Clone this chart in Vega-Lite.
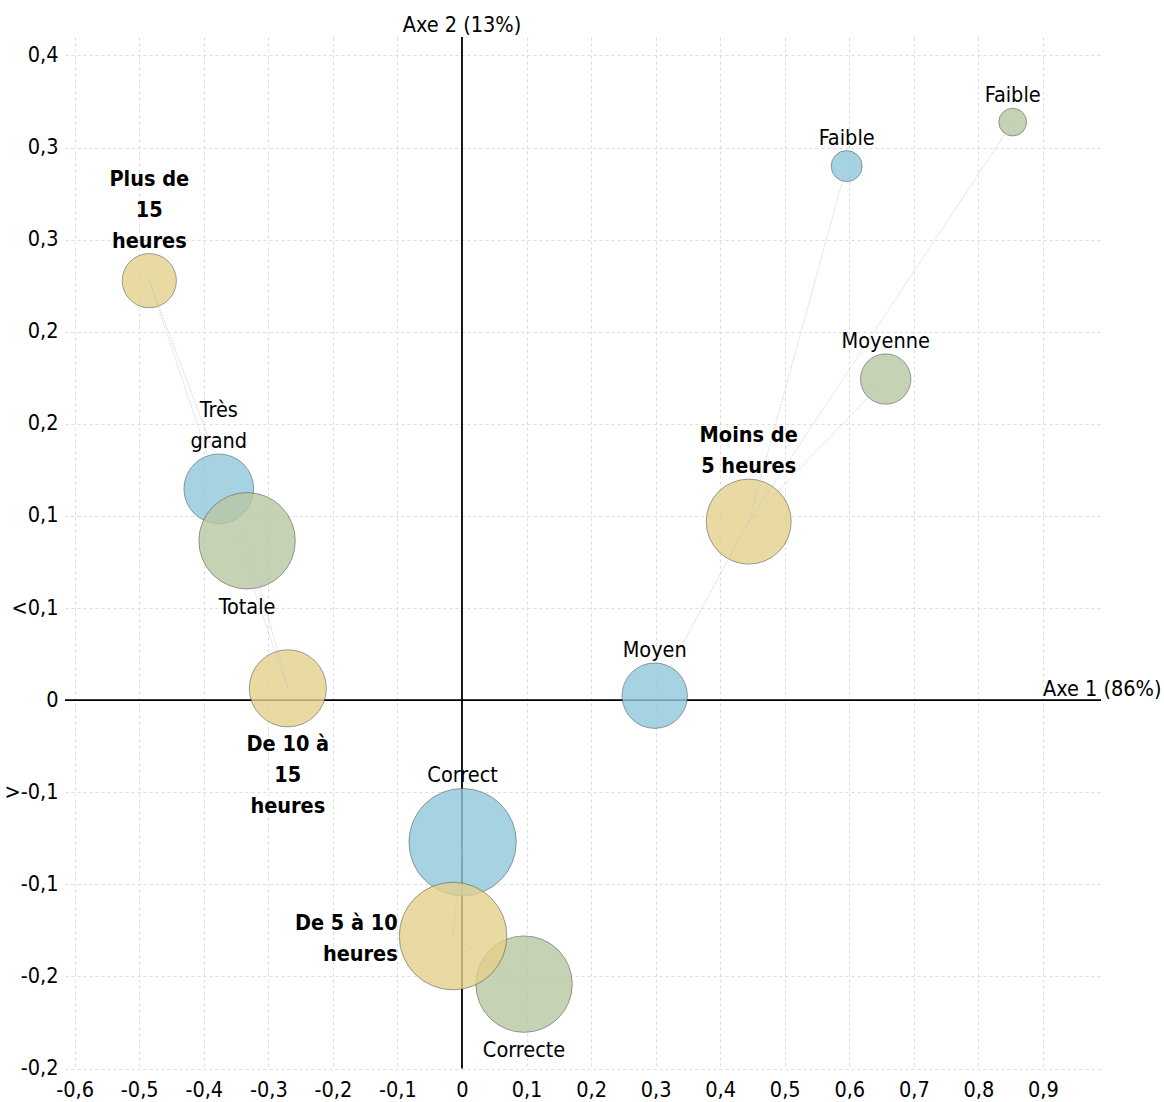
{
  "$schema": "https://vega.github.io/schema/vega-lite/v6.json",
  "width": 1036,
  "height": 1031.5,
  "autosize": {"type": "none"},
  "padding": {"left": 65, "top": 37, "right": 63, "bottom": 33.5},
  "background": "white",
  "config": {
    "view": {"stroke": null},
    "font": "DejaVu Sans Condensed, DejaVu Sans",
    "text": {"lineBreak": "\n"},
    "axis": {
      "domain": false, "ticks": false, "grid": true,
      "gridColor": "#d4d4d4", "gridDash": [3, 3], "gridWidth": 0.8,
      "labelFontSize": 21.5, "labelColor": "black",
      "labelFlush": false, "labelOverlap": false
    }
  },
  "datasets": {
    "points": [
      {"id": "N-Faible", "variable": "Niveau", "label": "Faible", "x": 0.596, "y": 0.2899, "poids": 11.4, "pos": "haut"},
      {"id": "N-Moyen", "variable": "Niveau", "label": "Moyen", "x": 0.2986, "y": 0.0024, "poids": 24.0, "pos": "haut"},
      {"id": "N-Correct", "variable": "Niveau", "label": "Correct", "x": 0.001, "y": -0.0771, "poids": 39.4, "pos": "haut"},
      {"id": "N-Tres grand", "variable": "Niveau", "label": "Très\ngrand", "x": -0.3767, "y": 0.1147, "poids": 25.6, "pos": "haut"},
      {"id": "S-Faible", "variable": "Satisfaction", "label": "Faible", "x": 0.8532, "y": 0.3138, "poids": 10.2, "pos": "haut"},
      {"id": "S-Moyenne", "variable": "Satisfaction", "label": "Moyenne", "x": 0.6564, "y": 0.1743, "poids": 18.5, "pos": "haut"},
      {"id": "S-Correcte", "variable": "Satisfaction", "label": "Correcte", "x": 0.0962, "y": -0.1542, "poids": 35.4, "pos": "bas"},
      {"id": "S-Totale", "variable": "Satisfaction", "label": "Totale", "x": -0.3329, "y": 0.0865, "poids": 35.4, "pos": "bas"},
      {"id": "D-15+", "variable": "Durée", "label": "Plus de\n15\nheures", "x": -0.4844, "y": 0.2277, "poids": 19.9, "pos": "haut"},
      {"id": "D-5-", "variable": "Durée", "label": "Moins de\n5 heures", "x": 0.4442, "y": 0.0969, "poids": 31.2, "pos": "haut"},
      {"id": "D-10-15", "variable": "Durée", "label": "De 10 à\n15\nheures", "x": -0.2698, "y": 0.0064, "poids": 28.3, "pos": "bas"},
      {"id": "D-5-10", "variable": "Durée", "label": "De 5 à 10\nheures", "x": -0.0138, "y": -0.1281, "poids": 39.5, "pos": "gauche"}
    ],
    "liens": [
      {"de": "D-15+", "vers": "N-Tres grand"},
      {"de": "D-15+", "vers": "S-Totale"},
      {"de": "D-10-15", "vers": "N-Tres grand"},
      {"de": "D-10-15", "vers": "S-Totale"},
      {"de": "D-5-", "vers": "N-Faible"},
      {"de": "D-5-", "vers": "S-Faible"},
      {"de": "D-5-", "vers": "S-Moyenne"},
      {"de": "D-5-", "vers": "N-Moyen"},
      {"de": "D-5-10", "vers": "N-Correct"},
      {"de": "D-5-10", "vers": "S-Correcte"}
    ],
    "unique": [{}]
  },
  "encoding": {
    "x": {
      "type": "quantitative",
      "scale": {"domain": [-0.615, 0.99], "nice": false, "zero": false},
      "axis": {
        "title": null,
        "values": [-0.6, -0.5, -0.4, -0.3, -0.2, -0.1, 0, 0.1, 0.2, 0.3, 0.4, 0.5, 0.6, 0.7, 0.8, 0.9],
        "labelExpr": "abs(datum.value) < 0.001 ? '0' : (datum.value < 0 ? '-' : '') + replace(format(abs(datum.value), '.1f'), '.', ',')",
        "labelPadding": 11
      }
    },
    "y": {
      "type": "quantitative",
      "scale": {"domain": [-0.2, 0.36], "nice": false, "zero": false},
      "axis": {
        "title": null,
        "values": [-0.2, -0.15, -0.1, -0.05, 0, 0.05, 0.1, 0.15, 0.2, 0.25, 0.3, 0.35],
        "labelExpr": "['-0,2','-0,2','-0,1','>-0,1','0','<0,1','0,1','0,2','0,2','0,3','0,3','0,4'][round(datum.value*20)+4]",
        "labelPadding": 7
      }
    }
  },
  "layer": [
    {
      "data": {"name": "unique"},
      "mark": {"type": "rule", "color": "black", "strokeWidth": 1.8},
      "encoding": {"y": {"datum": 0, "type": "quantitative"}}
    },
    {
      "data": {"name": "unique"},
      "mark": {"type": "rule", "color": "black", "strokeWidth": 1.8},
      "encoding": {"x": {"datum": 0, "type": "quantitative"}}
    },
    {
      "data": {"name": "points"},
      "mark": {"type": "point", "shape": "circle", "filled": true, "opacity": 1, "fillOpacity": 0.8, "stroke": "#444444", "strokeWidth": 0.7, "strokeOpacity": 0.7},
      "encoding": {
        "x": {"field": "x", "type": "quantitative"},
        "y": {"field": "y", "type": "quantitative"},
        "size": {"field": "poids", "type": "quantitative", "scale": {"type": "pow", "exponent": 2, "domain": [0, 100], "range": [0, 74256]}, "legend": null},
        "fill": {"field": "variable", "type": "nominal", "scale": {"domain": ["Niveau", "Satisfaction", "Durée"], "range": ["#90c8d9", "#b8c7a1", "#e3cf8b"]}, "legend": null}
      }
    },
    {
      "data": {"name": "liens"},
      "transform": [
        {"lookup": "de", "from": {"data": {"name": "points"}, "key": "id", "fields": ["x", "y"]}, "as": ["x1", "y1"]},
        {"lookup": "vers", "from": {"data": {"name": "points"}, "key": "id", "fields": ["x", "y"]}, "as": ["x2", "y2"]}
      ],
      "mark": {"type": "rule", "color": "#c4c4c4", "strokeWidth": 0.6, "strokeDash": [2, 1]},
      "encoding": {
        "x": {"field": "x1", "type": "quantitative"},
        "y": {"field": "y1", "type": "quantitative"},
        "x2": {"field": "x2"},
        "y2": {"field": "y2"}
      }
    },
    {
      "data": {"name": "points"},
      "transform": [{"filter": "datum.pos === 'haut'"}],
      "mark": {"type": "text", "fontSize": 21.5, "lineHeight": 31, "align": "center", "baseline": "bottom", "color": "black",
        "dy": {"expr": "-1.3625*datum.poids - 1 - (length(split(datum.label, '\\n')) - 1)*31"},
        "fontWeight": {"expr": "datum.variable === 'Durée' ? 'bold' : 'normal'"}},
      "encoding": {
        "x": {"field": "x", "type": "quantitative"},
        "y": {"field": "y", "type": "quantitative"},
        "text": {"field": "label"}
      }
    },
    {
      "data": {"name": "points"},
      "transform": [{"filter": "datum.pos === 'bas'"}],
      "mark": {"type": "text", "fontSize": 21.5, "lineHeight": 31, "align": "center", "baseline": "top", "color": "black",
        "dy": {"expr": "1.3625*datum.poids + 7.5"},
        "fontWeight": {"expr": "datum.variable === 'Durée' ? 'bold' : 'normal'"}},
      "encoding": {
        "x": {"field": "x", "type": "quantitative"},
        "y": {"field": "y", "type": "quantitative"},
        "text": {"field": "label"}
      }
    },
    {
      "data": {"name": "points"},
      "transform": [{"filter": "datum.pos === 'gauche'"}],
      "mark": {"type": "text", "fontSize": 21.5, "lineHeight": 31, "align": "right", "baseline": "middle", "color": "black", "dy": -12,
        "dx": {"expr": "-1.3625*datum.poids - 1.5"},
        "fontWeight": {"expr": "datum.variable === 'Durée' ? 'bold' : 'normal'"}},
      "encoding": {
        "x": {"field": "x", "type": "quantitative"},
        "y": {"field": "y", "type": "quantitative"},
        "text": {"field": "label"}
      }
    },
    {
      "data": {"name": "unique"},
      "mark": {"type": "text", "fontSize": 21.5, "align": "left", "baseline": "alphabetic", "dy": -4, "color": "black"},
      "encoding": {
        "x": {"datum": 0.9, "type": "quantitative"},
        "y": {"datum": 0, "type": "quantitative"},
        "text": {"value": "Axe 1 (86%)"}
      }
    },
    {
      "data": {"name": "unique"},
      "mark": {"type": "text", "fontSize": 21.5, "align": "center", "baseline": "alphabetic", "dy": -5, "color": "black"},
      "encoding": {
        "x": {"datum": 0, "type": "quantitative"},
        "y": {"datum": 0.36, "type": "quantitative"},
        "text": {"value": "Axe 2 (13%)"}
      }
    }
  ]
}
